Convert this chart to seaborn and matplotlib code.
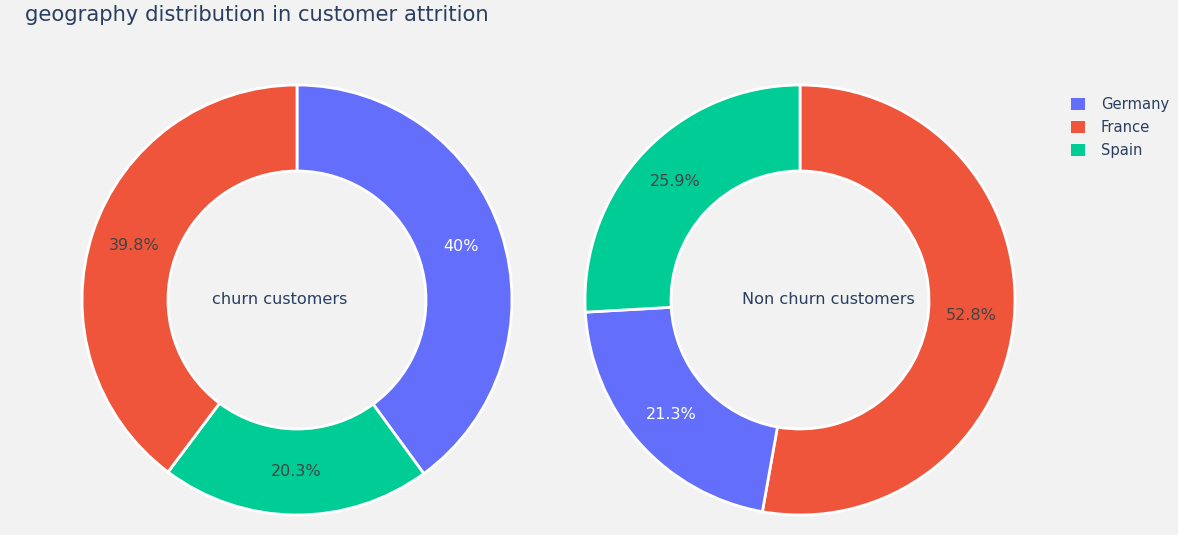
import matplotlib
matplotlib.use("Agg")
import matplotlib.pyplot as plt
import seaborn as sns
from matplotlib.patches import Patch

# 数据
geographies = ["Germany", "France", "Spain"]
churn_labels = ["Germany", "Spain", "France"]
churn_values = [40.0, 20.3, 39.8]
nonchurn_labels = ["France", "Germany", "Spain"]
nonchurn_values = [52.8, 21.3, 25.9]

COLORS = {"Germany": "#636efa", "France": "#EF553B", "Spain": "#00cc96"}
BG = "#f2f2f2"
TEXT = "#2a3f5f"

sns.set_theme(style="white")
plt.rcParams['font.family'] = ['DejaVu Sans']

W, H = 1178, 535
fig = plt.figure(figsize=(W / 100, H / 100), dpi=100, facecolor=BG)


def donut(cx, cy, r, labels, values, center_text, text_x):
    ax = fig.add_axes([(cx - r) / W, (H - cy - r) / H, 2 * r / W, 2 * r / H])
    ax.set_facecolor(BG)
    wedges, texts, autotexts = ax.pie(
        values,
        colors=[COLORS[l] for l in labels],
        startangle=90,
        counterclock=False,
        radius=1,
        autopct=lambda p: f"{p:.3g}%",
        pctdistance=0.8,
        wedgeprops=dict(width=0.4, edgecolor='white', linewidth=2),
        textprops=dict(size=11.5),
    )
    for t, l in zip(autotexts, labels):
        t.set_color('white' if l == "Germany" else '#444444')
    # 中心文字（原图中略有偏移）
    ax.text((text_x - cx) / r, 0, center_text, ha='center', va='center',
            fontsize=11.6, color=TEXT)
    ax.set_xlim(-1, 1)
    ax.set_ylim(-1, 1)
    ax.set_aspect('equal')
    ax.axis('off')


donut(297, 300, 215, churn_labels, churn_values, "churn customers", 280)
donut(800, 300, 215, nonchurn_labels, nonchurn_values, "Non churn customers", 828)

fig.text(25 / W, 1 - 15 / H, "geography distribution in customer attrition",
         fontsize=15.2, color=TEXT, ha='left', va='center')

handles = [Patch(facecolor=COLORS[g], edgecolor='none') for g in geographies]
fig.legend(handles, geographies, loc='upper left', bbox_to_anchor=(1058 / W, 1 - 84 / H),
           frameon=False, fontsize=10.6, handlelength=0.9, handleheight=0.9,
           labelspacing=0.55, handletextpad=1.1, labelcolor=TEXT)

fig.savefig("out.png", dpi=100, facecolor=BG)
